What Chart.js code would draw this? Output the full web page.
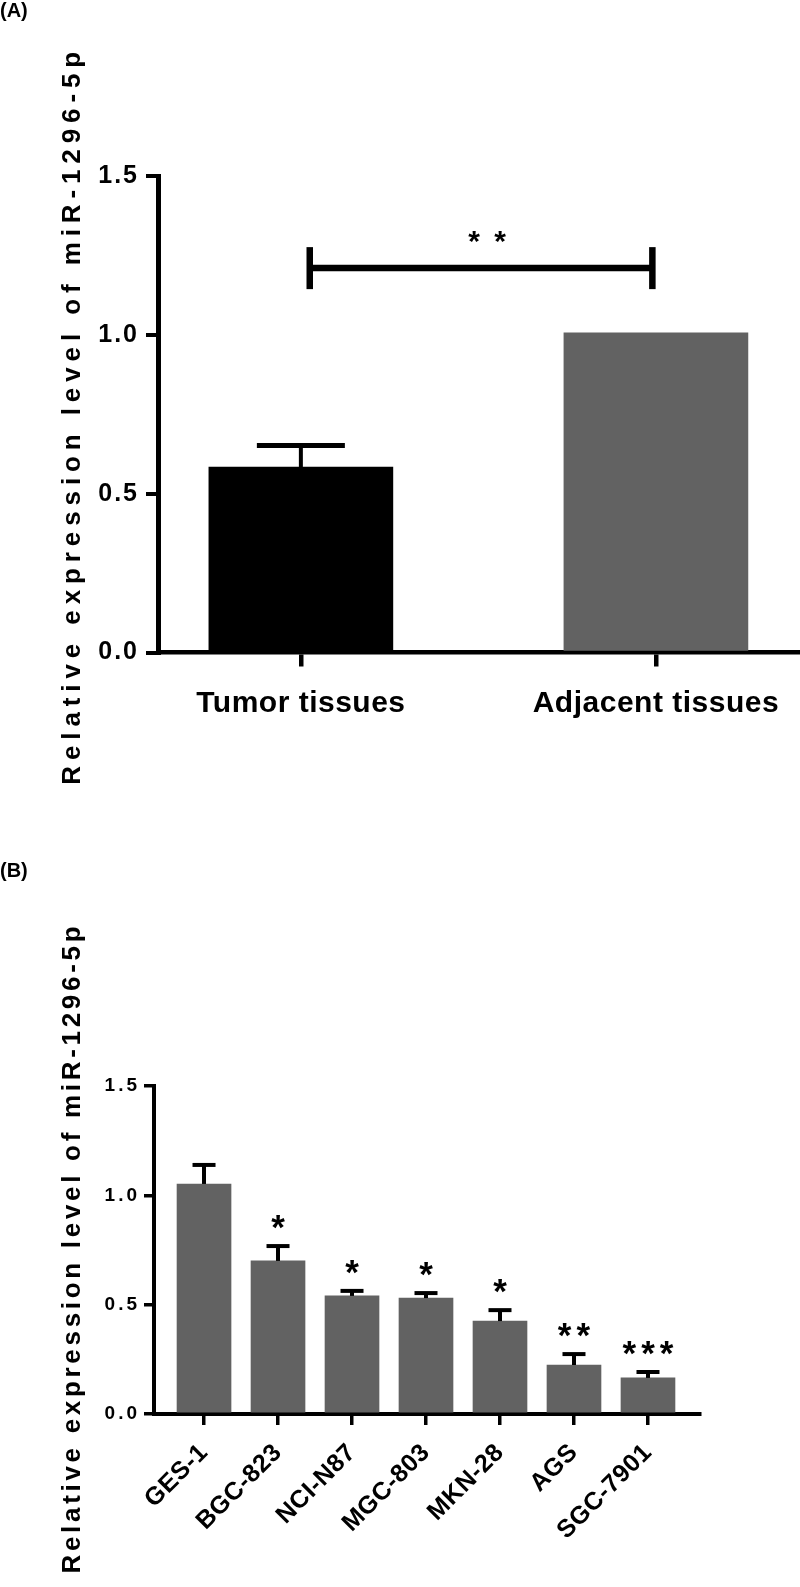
<!DOCTYPE html>
<html>
<head>
<meta charset="utf-8">
<script src="https://cdn.jsdelivr.net/npm/chart.js@4.4.1/dist/chart.umd.min.js"></script>
<style>
  html, body { margin: 0; padding: 0; background: #fff; }
  body { width: 800px; height: 1587px; position: relative; overflow: hidden; font-family: 'Liberation Sans', Arial, sans-serif; }
  .panel-label { position: absolute; left: 0; font-weight: bold; font-size: 20px; line-height: 20px; z-index: 2; }
  #wrapA { position: absolute; left: 0; top: 0; width: 800px; height: 850px; }
  #wrapB { position: absolute; left: 0; top: 850px; width: 800px; height: 737px; }
</style>
</head>
<body>
<div id="wrapA"><canvas id="chartA" width="800" height="850"></canvas></div>
<div id="wrapB"><canvas id="chartB" width="800" height="737"></canvas></div>
<div class="panel-label" style="top:0px">(A)</div>
<div class="panel-label" style="top:860px">(B)</div>
<script>
// (A) tumour vs adjacent tissue
const tissueGroups = ['Tumor tissues', 'Adjacent tissues'];
const tissueMeans = [0.584, 1.006];
const tissueErrors = [0.068, 0];
const tissueColors = ['#000000', '#626262'];
const tissueBracketX = [0.025, 0.99];
const tissueBracketY = 1.21;
const tissueStars = '* *';

// (B) gastric cell lines
const cellLines = ['GES-1', 'BGC-823', 'NCI-N87', 'MGC-803', 'MKN-28', 'AGS', 'SGC-7901'];
const cellMeans = [1.052, 0.700, 0.540, 0.530, 0.425, 0.224, 0.165];
const cellErrors = [0.087, 0.068, 0.023, 0.023, 0.050, 0.050, 0.027];
const cellStars = ['', '*', '*', '*', '*', '**', '***'];

const yTicks = [0, 0.5, 1.0, 1.5];
const yTitle = 'Relative expression level of miR-1296-5p';

const FONT = "'Liberation Sans', Arial, sans-serif";
Chart.defaults.font.family = FONT;
Chart.defaults.color = '#000';

// letter spacing (px) of the tick labels, per canvas and axis
const labelSpacing = { chartA: { x: 0.5, y: 2 }, chartB: { x: 0.5, y: 3 } };

class SpacedLinearScale extends Chart.LinearScale {
    drawLabels(area) {
        const sp = labelSpacing[this.chart.canvas.id][this.axis];
        this.ctx.save();
        this.ctx.letterSpacing = sp + 'px';
        super.drawLabels(area);
        this.ctx.restore();
    }
}
SpacedLinearScale.id = 'spacedLinear';
SpacedLinearScale.defaults = Chart.LinearScale.defaults;
Chart.register(SpacedLinearScale);

function sideTitle(x, size, spacing, shift) {
    return {
        id: 'sideTitle',
        afterDraw(chart) {
            const ctx = chart.ctx, a = chart.chartArea;
            ctx.save();
            ctx.font = 'bold ' + size + 'px ' + FONT;
            ctx.letterSpacing = spacing + 'px';
            ctx.fillStyle = '#000';
            ctx.textAlign = 'center';
            ctx.textBaseline = 'middle';
            ctx.translate(x, (a.top + a.bottom) / 2 + shift);
            ctx.rotate(-Math.PI / 2);
            ctx.fillText(yTitle, spacing / 2, 0);
            ctx.restore();
        }
    };
}

function errorBars(means, errors, st) {
    return {
        id: 'errorBars',
        afterDatasetsDraw(chart) {
            const ctx = chart.ctx, xs = chart.scales.x, ys = chart.scales.y;
            ctx.save();
            ctx.strokeStyle = '#000';
            means.forEach((m, i) => {
                if (!errors[i]) return;
                const x = xs.getPixelForValue(i);
                const y0 = ys.getPixelForValue(m);
                const y1 = ys.getPixelForValue(m + errors[i]);
                ctx.lineWidth = st.stem;
                ctx.beginPath(); ctx.moveTo(x, y0); ctx.lineTo(x, y1); ctx.stroke();
                ctx.lineWidth = st.cap;
                ctx.beginPath(); ctx.moveTo(x - st.half, y1); ctx.lineTo(x + st.half, y1); ctx.stroke();
            });
            ctx.restore();
        }
    };
}

function drawStars(ctx, text, x, cy, size, spacing) {
    ctx.font = 'bold ' + size + 'px ' + FONT;
    ctx.letterSpacing = spacing + 'px';
    ctx.textAlign = 'center';
    ctx.textBaseline = 'alphabetic';
    const m = ctx.measureText(text);
    const base = cy + (m.actualBoundingBoxAscent - m.actualBoundingBoxDescent) / 2;
    ctx.fillText(text, x + spacing / 2, base);
}

const bracketA = {
    id: 'bracketA',
    afterDatasetsDraw(chart) {
        const ctx = chart.ctx, xs = chart.scales.x, ys = chart.scales.y;
        const xa = xs.getPixelForValue(tissueBracketX[0]);
        const xb = xs.getPixelForValue(tissueBracketX[1]);
        const y = ys.getPixelForValue(tissueBracketY);
        ctx.save();
        ctx.strokeStyle = '#000';
        ctx.fillStyle = '#000';
        ctx.lineWidth = 6.5;
        ctx.beginPath(); ctx.moveTo(xa, y); ctx.lineTo(xb, y); ctx.stroke();
        ctx.beginPath(); ctx.moveTo(xa, y - 21); ctx.lineTo(xa, y + 21); ctx.stroke();
        ctx.beginPath(); ctx.moveTo(xb, y - 21); ctx.lineTo(xb, y + 21); ctx.stroke();
        drawStars(ctx, tissueStars, (xa + xb) / 2 + 6, y - 31, 30, 3);
        ctx.restore();
    }
};

const starsB = {
    id: 'starsB',
    afterDatasetsDraw(chart) {
        const ctx = chart.ctx, xs = chart.scales.x, ys = chart.scales.y;
        ctx.save();
        ctx.fillStyle = '#000';
        cellStars.forEach((s, i) => {
            if (!s) return;
            const x = xs.getPixelForValue(i);
            const y = ys.getPixelForValue(cellMeans[i] + cellErrors[i]);
            drawStars(ctx, s, x, y - 24, 35, 5);
        });
        ctx.restore();
    }
};

// panel A
new Chart(document.getElementById('chartA'), {
    type: 'bar',
    data: {
        datasets: [{
            data: tissueMeans.map((v, i) => ({ x: i, y: v })),
            backgroundColor: tissueColors,
            borderWidth: 0,
            barThickness: 184
        }]
    },
    options: {
        responsive: false,
        animation: false,
        layout: { padding: { top: 176, right: 1, left: 0, bottom: 0 } },
        plugins: { legend: { display: false }, tooltip: { enabled: false } },
        scales: {
            x: {
                type: 'spacedLinear', offset: false, min: -0.401, max: 1.403, z: 1,
                grid: { offset: false, drawOnChartArea: false, tickLength: 14, lineWidth: 4.5, color: '#000' },
                border: { width: 4.5, color: '#000' },
                afterBuildTicks: s => { s.ticks = tissueGroups.map((g, i) => ({ value: i })); },
                ticks: {
                    callback: v => tissueGroups[v],
                    font: { size: 30, weight: 'bold' },
                    padding: 19.5, maxRotation: 0, autoSkip: false
                },
                afterFit: s => { s.height = 850 - 652.5; s.paddingLeft = 0; s.paddingRight = 0; }
            },
            y: {
                type: 'spacedLinear', min: 0, max: 1.5, z: 1,
                grid: { drawOnChartArea: false, tickLength: 12.5, lineWidth: 4, color: '#000' },
                border: { width: 5, color: '#000' },
                afterBuildTicks: s => { s.ticks = yTicks.map(v => ({ value: v })); },
                ticks: { callback: v => v.toFixed(1), font: { size: 25, weight: 'bold' }, padding: 7 },
                afterFit: s => { s.width = 158.5; s.paddingTop = 0; s.paddingBottom = 0; }
            }
        }
    },
    plugins: [sideTitle(73, 26, 5.9, 4), errorBars(tissueMeans, tissueErrors, { stem: 4, cap: 5, half: 44 }), bracketA]
});

// panel B
new Chart(document.getElementById('chartB'), {
    type: 'bar',
    data: {
        datasets: [{
            data: cellMeans.map((v, i) => ({ x: i, y: v })),
            backgroundColor: '#626262',
            borderWidth: 0,
            barThickness: 54
        }]
    },
    options: {
        responsive: false,
        animation: false,
        layout: { padding: { top: 236, right: 100, left: 0, bottom: 0 } },
        plugins: { legend: { display: false }, tooltip: { enabled: false } },
        scales: {
            x: {
                type: 'spacedLinear', offset: false, min: -0.676, max: 6.703, z: 1,
                grid: { offset: false, drawOnChartArea: false, tickLength: 11, lineWidth: 3.5, color: '#000' },
                border: { width: 4, color: '#000' },
                afterBuildTicks: s => { s.ticks = cellLines.map((c, i) => ({ value: i })); },
                ticks: {
                    callback: v => cellLines[v],
                    font: { size: 25, weight: 'bold' },
                    padding: 13, minRotation: 45, maxRotation: 45, autoSkip: false
                },
                afterFit: s => { s.height = 737 - 564; s.paddingLeft = 0; s.paddingRight = 0; }
            },
            y: {
                type: 'spacedLinear', min: 0, max: 1.5, z: 1,
                grid: { drawOnChartArea: false, tickLength: 10, lineWidth: 3.5, color: '#000' },
                border: { width: 4, color: '#000' },
                afterBuildTicks: s => { s.ticks = yTicks.map(v => ({ value: v })); },
                ticks: { callback: v => v.toFixed(1), font: { size: 19, weight: 'bold' }, padding: 4 },
                afterFit: s => { s.width = 154; s.paddingTop = 0; s.paddingBottom = 0; }
            }
        }
    },
    plugins: [sideTitle(73, 26, 3.7, 0), errorBars(cellMeans, cellErrors, { stem: 4, cap: 4, half: 11.5 }), starsB]
});
</script>
</body>
</html>
